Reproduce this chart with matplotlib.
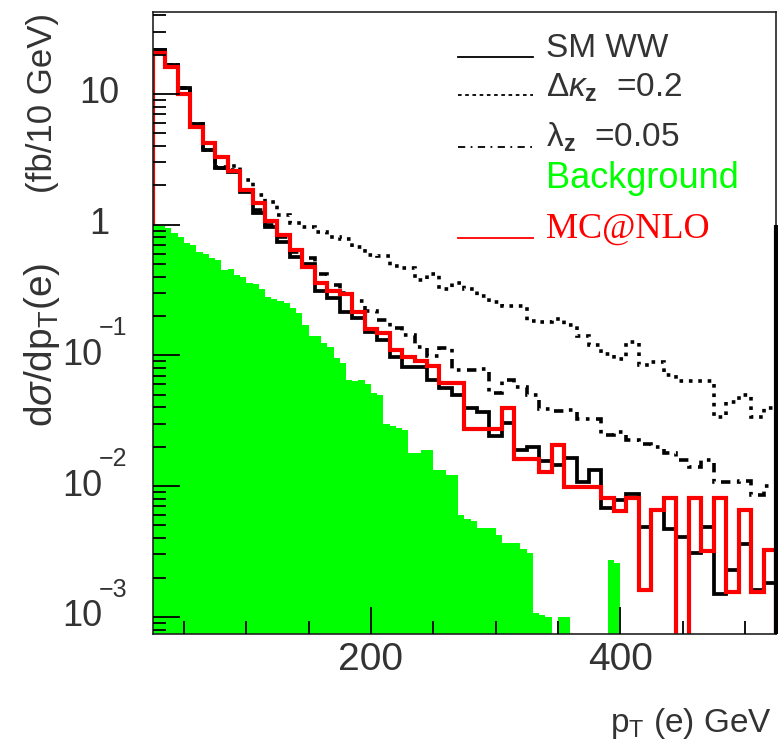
import numpy as np
import matplotlib
matplotlib.use("Agg")
import matplotlib.pyplot as plt
import matplotlib.transforms as mtransforms
from matplotlib.ticker import MultipleLocator, LogLocator, NullFormatter

plt.rcParams['font.family'] = ['Liberation Sans', 'DejaVu Sans']
plt.rcParams['mathtext.fontset'] = 'custom'
plt.rcParams['mathtext.rm'] = 'Liberation Sans'
plt.rcParams['mathtext.it'] = 'Liberation Sans:italic'
plt.rcParams['mathtext.bf'] = 'Liberation Sans:bold'

# --- data: d sigma / d pT(e) in fb per 10 GeV, bins of 10 GeV from 25 to 525 GeV
edges = np.arange(25, 526, 10)

sm_ww = [21.7, 16.7, 11.1, 5.9, 3.73, 2.7, 2.55, 1.79, 1.22, 0.966,
         0.74, 0.57, 0.50, 0.31, 0.274, 0.216, 0.193, 0.152, 0.131, 0.098,
         0.082, 0.082, 0.065, 0.056, 0.050, 0.0398, 0.0372, 0.0242, 0.0303, 0.019,
         0.020, 0.0155, 0.0145, 0.0164, 0.0108, 0.0133, 0.0068, 0.0079, 0.0087, 0.0049,
         0.0066, 0.0047, 0.0041, 0.0031, 0.0049, 0.0015, 0.0023, 0.0036, 0.0016, 0.0018]

dkappa = [21.7, 16.7, 11.1, 5.9, 3.73, 2.75, 2.8, 2.2, 1.69, 1.49,
          1.19, 1.03, 0.96, 0.88, 0.80, 0.78, 0.68, 0.59, 0.58, 0.48,
          0.47, 0.376, 0.42, 0.32, 0.36, 0.32, 0.285, 0.256, 0.237, 0.24,
          0.183, 0.18, 0.19, 0.17, 0.14, 0.12, 0.1025, 0.094, 0.127, 0.0845,
          0.089, 0.071, 0.0638, 0.0638, 0.0638, 0.0339, 0.044, 0.0499, 0.0339, 0.0398]

lambdaz = [21.7, 16.7, 11.1, 5.9, 3.73, 2.7, 2.6, 1.85, 1.3, 1.0,
           0.8, 0.62, 0.56, 0.42, 0.346, 0.30, 0.261, 0.219, 0.187, 0.162,
           0.143, 0.116, 0.099, 0.114, 0.0775, 0.0775, 0.079, 0.0516, 0.065, 0.0574,
           0.0499, 0.039, 0.0375, 0.0383, 0.0327, 0.0327, 0.0246, 0.026, 0.0226, 0.021,
           0.020, 0.018, 0.0159, 0.014, 0.0159, 0.0107, 0.0107, 0.011, 0.0086, 0.010]

mcnlo = [20.5, 16.0, 10.0, 5.6, 4.25, 3.31, 2.58, 1.85, 1.46, 1.07,
         0.835, 0.64, 0.478, 0.356, 0.313, 0.295, 0.216, 0.159, 0.149, 0.110,
         0.097, 0.091, 0.083, 0.062, 0.062, 0.0274, 0.0274, 0.0274, 0.0394, 0.0161,
         0.0161, 0.0128, 0.0207, 0.0099, 0.0099, 0.0099, 0.0081, 0.0064, 0.0081, 0.0016,
         0.0066, 0.0081, 0.0, 0.0081, 0.0032, 0.0081, 0.00156, 0.0066, 0.00156, 0.00325]

# background, bins of 5 GeV from 25 to 400 GeV
bg_edges = np.arange(25, 401, 5)
background = [1.0, 0.98, 0.94, 0.86, 0.80, 0.72, 0.70, 0.62, 0.60, 0.56,
              0.54, 0.45, 0.46, 0.41, 0.40, 0.36, 0.35, 0.32, 0.28, 0.27,
              0.26, 0.25, 0.23, 0.21, 0.17, 0.14, 0.14, 0.124, 0.117, 0.095,
              0.087, 0.065, 0.064, 0.065, 0.060, 0.052, 0.050, 0.030, 0.029, 0.028,
              0.027, 0.018, 0.018, 0.019, 0.019, 0.0133, 0.0133, 0.0122, 0.0122, 0.006,
              0.0056, 0.0054, 0.0048, 0.0048, 0.0048, 0.0042, 0.0037, 0.0037, 0.0037, 0.0033,
              0.0031, 0.00107, 0.00103, 0.001, 0.0, 0.001, 0.001, 0.0, 0.0, 0.0,
              0.0, 0.0, 0.0, 0.0027, 0.0026]

y_decades = [1e-3, 1e-2, 1e-1, 1, 10]
text_col = '#333333'

fig = plt.figure(figsize=(7.78, 7.42), dpi=100)
ax = fig.add_axes([0.1964, 0.1456, 0.8010, 0.8383])
ax.set_yscale('log')
ax.set_xlim(edges[0], edges[-1])
ax.set_ylim(7.4e-4, 42.4)
y_bottom = ax.get_ylim()[0]

# histograms
ax.stairs(dkappa, edges, baseline=None, color='k', lw=2.6,
          linestyle=(0, (1, 1.6)), capstyle='butt', joinstyle='miter', zorder=1.8)
ax.stairs(lambdaz, edges, baseline=None, color='k', lw=2.6,
          linestyle=(0, (2.6, 1.8, 1, 1.8)), capstyle='butt', joinstyle='miter', zorder=1.8)
ax.stairs(sm_ww, edges, baseline=None, color='k', lw=2.7, joinstyle='miter', zorder=2)
ax.stairs(mcnlo, edges, baseline=1e-6, color='#ff0000', lw=3.0, joinstyle='miter', zorder=2.1)
ax.stairs(background, bg_edges, baseline=1e-6, fill=True, color='#00ff00', lw=0, zorder=2.3)
ax.vlines(edges[-1], y_bottom, 1.0, colors='k', lw=3, zorder=2.6, clip_on=False)

# axes style
ax.set_axisbelow(False)
for sp in ax.spines.values():
    sp.set_linewidth(1.2)
    sp.set_color('#222222')
ax.xaxis.set_major_locator(MultipleLocator(200))
ax.xaxis.set_minor_locator(MultipleLocator(50))
ax.yaxis.set_major_locator(LogLocator(base=10, numticks=20))
ax.yaxis.set_minor_locator(LogLocator(base=10, subs=np.arange(2, 10), numticks=20))
ax.yaxis.set_major_formatter(NullFormatter())
ax.yaxis.set_minor_formatter(NullFormatter())
ax.tick_params(which='both', direction='in', top=False, right=False, color='k', width=1.3)
ax.tick_params(which='major', length=19.5)
ax.tick_params(which='minor', length=9.5)
ax.tick_params(axis='x', labelsize=28, pad=6, labelcolor=text_col)


def xa(px):
    return (px - 152.8) / 623.2


def ya(py):
    return (634 - py) / 622


# y tick labels drawn as ROOT style 10^n
trans = mtransforms.blended_transform_factory(ax.transAxes, ax.transData)
exp_trans = mtransforms.offset_copy(trans, fig=fig, x=0, y=27, units='dots')
for v in y_decades:
    if v >= 1:
        ax.text(xa(99), v, str(int(v)), ha='center', va='center', fontsize=26,
                color=text_col, transform=trans)
    else:
        ax.text(xa(102), v, '10', ha='right', va='center', fontsize=26,
                color=text_col, transform=trans)
        ax.text(xa(99), v, '\u2212%d' % round(-np.log10(v)), ha='left', va='center',
                fontsize=18, color=text_col, transform=exp_trans)

# axis titles
ax.text(xa(772), ya(731.7), r'p$_\mathrm{T}$ (e) GeV', ha='right', va='baseline',
        fontsize=24, color=text_col, transform=ax.transAxes)
ax.text(xa(42), ya(13), '(fb/10 GeV)', rotation=90, ha='center', va='top',
        fontsize=25, color=text_col, transform=ax.transAxes)
ax.text(xa(42), ya(263), r'd$\sigma$/dp$_\mathrm{T}$(e)', rotation=90, ha='center', va='top',
        fontsize=28, color=text_col, transform=ax.transAxes)

# legend, drawn by hand like the ROOT one
lx = [xa(458), xa(533)]
ax.plot(lx, [ya(57)] * 2, color='k', lw=1.3, transform=ax.transAxes, clip_on=False)
ax.plot(lx, [ya(95)] * 2, color='k', lw=1.3, linestyle=(0, (2, 2)),
        transform=ax.transAxes, clip_on=False)
ax.plot(lx, [ya(147)] * 2, color='k', lw=1.3, linestyle=(0, (4, 3, 1, 3)),
        transform=ax.transAxes, clip_on=False)
ax.plot(lx, [ya(238)] * 2, color='#ff0000', lw=1.3, transform=ax.transAxes, clip_on=False)

tx = xa(546)
ax.text(tx, ya(57), 'SM WW', fontsize=24, color=text_col, va='baseline',
        transform=ax.transAxes)
ax.text(tx, ya(97), r'$\Delta\kappa_{\mathbf{z}}$  =0.2', fontsize=24, color=text_col,
        va='baseline', transform=ax.transAxes)
ax.text(tx, ya(147), r'$\mathrm{\lambda}_{\mathbf{z}}$  =0.05', fontsize=24, color=text_col,
        va='baseline', transform=ax.transAxes)
ax.text(tx, ya(188), 'Background', fontsize=26, color='#00ff00', va='baseline',
        transform=ax.transAxes)
ax.text(tx, ya(238), 'MC@NLO', fontsize=26, color='#ff0000', va='baseline',
        family='Liberation Serif', transform=ax.transAxes)

fig.savefig('out.png', dpi=100)
